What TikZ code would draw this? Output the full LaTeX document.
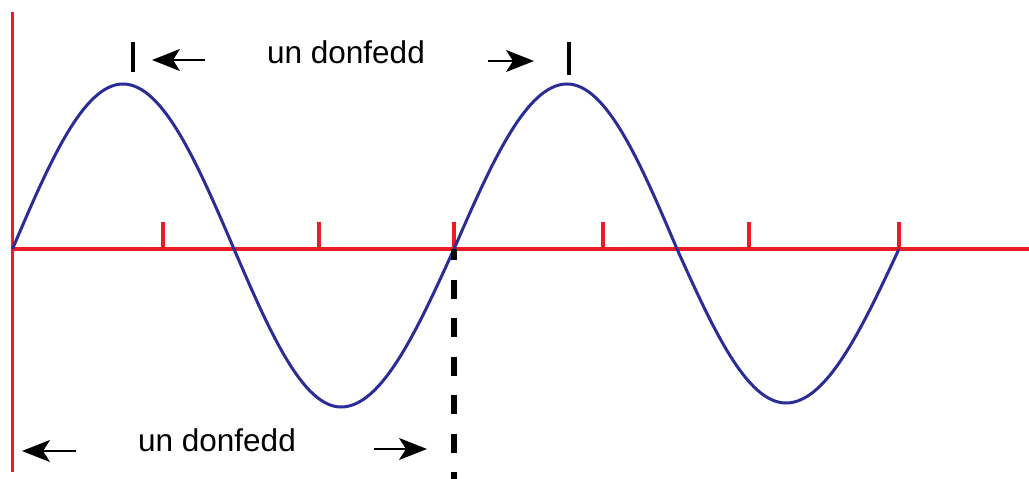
\documentclass[tikz,border=0pt]{standalone}
\usepackage{fontspec}
\setmainfont{Liberation Sans}
\usepackage{tikz}
\usetikzlibrary{positioning, arrows.meta, calc}

\definecolor{axisred}{RGB}{237,28,36}
\definecolor{wavenavy}{RGB}{43,45,150}

\tikzset{
    axisline/.style={draw=axisred, line width=3.2pt},
    waveline/.style={draw=wavenavy, line width=3pt},
    spanarrow/.style={line width=1.4pt, -{Stealth[length=28pt, width=22pt, inset=7pt]}},
    marktick/.style={line width=4pt},
    spanlabel/.style={font=\fontsize{31.5}{36}\selectfont, anchor=base, inner sep=0pt}
}

\begin{document}
\begin{tikzpicture}[x=1pt, y=-1pt]
    \useasboundingbox (0,0) rectangle (1029,479);
    % axes
    \draw[axisline] (12.5,12) -- (12.5,472);
    \draw[axisline] (12.5,249) -- (1029,249);
    \foreach \x in {163,319,454,603,749,899}
        \draw[axisline] (\x,249) -- (\x,222);
    % the wave
    \draw[waveline] (12.5,249) sin (123,84) cos (234,249) sin (341,407) cos (454,249)
        sin (567,84) cos (677,249) sin (786,403) cos (899,249);
    % dashed drop line
    \draw[line width=6pt, dash pattern=on 19pt off 19.5pt, dash phase=8pt] (453.5,249) -- (453.5,479);
    % crest markers
    \draw[marktick] (133,42) -- (133,72);
    \draw[marktick] (569,42) -- (569,75);
    % top span
    \node[spanlabel] (toplabel) at (346,63) {un donfedd};
    \coordinate (topLtail) at (205,60);
    \coordinate (topLtip) at (152,60);
    \coordinate (topRtail) at (488,61);
    \coordinate (topRtip) at (534,61);
    \draw[spanarrow] (topLtail) -- (topLtip);
    \draw[spanarrow] (topRtail) -- (topRtip);
    % bottom span
    \node[spanlabel] (botlabel) at (217,451) {un donfedd};
    \coordinate (botLtail) at (76,451);
    \coordinate (botLtip) at (22,451);
    \coordinate (botRtail) at (374,449);
    \coordinate (botRtip) at (427,449);
    \draw[spanarrow] (botLtail) -- (botLtip);
    \draw[spanarrow] (botRtail) -- (botRtip);
\end{tikzpicture}
\end{document}
